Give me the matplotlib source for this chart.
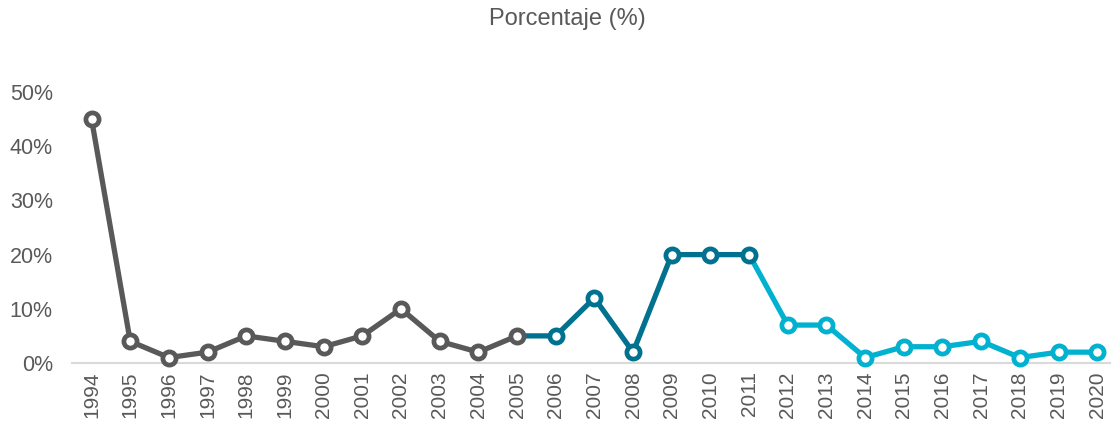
import matplotlib
matplotlib.use("Agg")
import matplotlib.pyplot as plt
from matplotlib.ticker import PercentFormatter

years = list(range(1994, 2021))
values = [45, 4, 1, 2, 5, 4, 3, 5, 10, 4, 2, 5, 5, 12, 2, 20, 20, 20, 7, 7, 1, 3, 3, 4, 1, 2, 2]

# series segments (year ranges inclusive)
seg_gray = (1994, 2005)
seg_teal = (2005, 2011)
seg_cyan = (2011, 2020)
c_gray = "#595959"
c_teal = "#00728F"
c_cyan = "#00B2D0"

plt.rcParams['font.family'] = ['Liberation Sans', 'DejaVu Sans']

fig = plt.figure(figsize=(11.11, 4.24), dpi=100)
ax = fig.add_axes([0.065, 0.1439, 0.940, 0.639])

def sub(a, b):
    xs = [y for y in years if a <= y <= b]
    vs = [values[years.index(y)] for y in xs]
    return xs, vs

lw = 3.8
for (a, b), c in [(seg_gray, c_gray), (seg_teal, c_teal), (seg_cyan, c_cyan)]:
    xs, vs = sub(a, b)
    ax.plot(xs, vs, color=c, lw=lw, solid_capstyle='butt', zorder=2, clip_on=False)

for (a, b), c in [((1994, 2005), c_gray), ((2006, 2011), c_teal), ((2012, 2020), c_cyan)]:
    xs, vs = sub(a, b)
    ax.plot(xs, vs, ls='none', marker='o', ms=9.5, mfc='white', mec=c, mew=3.4,
            zorder=3, clip_on=False)

ax.set_xlim(1993.5, 2020.5)
ax.set_ylim(0, 50)
ax.set_yticks([0, 10, 20, 30, 40, 50])
ax.yaxis.set_major_formatter(PercentFormatter(decimals=0))
ax.set_xticks(years)
ax.set_xticklabels([str(y) for y in years], rotation=90)
ax.tick_params(axis='y', length=0, labelsize=15.5, labelcolor='#595959', pad=14)
ax.tick_params(axis='x', length=0, labelsize=15, labelcolor='#595959', pad=6)
for s in ['top', 'right', 'left']:
    ax.spines[s].set_visible(False)
ax.spines['bottom'].set_color('#D9D9D9')
ax.spines['bottom'].set_linewidth(1.5)

fig.text(0.511, 0.955, "Porcentaje (%)", ha='center', va='center', fontsize=17, color='#595959')

fig.savefig("out.png", dpi=100)
